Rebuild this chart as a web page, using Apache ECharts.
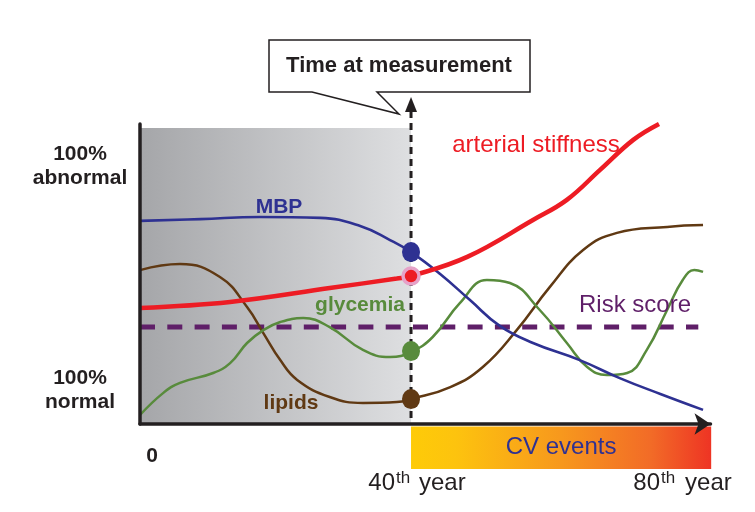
<!DOCTYPE html>
<html><head><meta charset="utf-8">
<script src="https://cdn.jsdelivr.net/npm/echarts@6/dist/echarts.min.js"></script>
<style>html,body{margin:0;padding:0;background:#fff}#c{width:755px;height:512px}</style>
</head><body><div id="c"></div>
<script>
// ---- data (x = age in years, y = 0 "100% normal" .. 100 "100% abnormal") ----
const measureYear = 40;
const mbp = [[0,67.7],[8.9,68.3],[17.7,69],[26.6,68.7],[32.5,66],[36.9,61.3],[40,57.3],[44.3,50],[48.7,41.3],[53.1,32.7],[58,27],[64.9,21.3],[70.8,15.3],[76.8,10],[83.1,4.7]];
const stiffness = [[0,38.7],[13.3,40.7],[28,45.3],[37.9,48.5],[40,49.3],[48.3,55.7],[58,68],[63,74.7],[67.9,84.7],[72.8,94.7],[76.6,100]];
const lipids = [[0,51.3],[5.9,53.3],[11.8,49],[15.8,39],[18.2,30.3],[20.7,21.3],[23.2,14.7],[28,9],[32.9,7],[37.9,7.3],[40,8.3],[45.8,12.3],[50.6,19],[55.6,31.3],[60.5,45.7],[65.4,58],[70.4,63.7],[77.8,65.7],[83.1,66.3]];
const glycemia = [[0,3],[3.4,10.3],[5.9,13.7],[10.8,17],[13.3,20.3],[15.8,27],[18.2,31.3],[20.7,34],[24.1,35.3],[28,32.3],[32.9,24.7],[36.9,22.3],[40,24],[43.2,29],[47.2,40.3],[51.2,48],[54.6,47],[59,38],[63,27],[66,19],[68.9,16.3],[71.9,17],[74.8,24.7],[77.8,38],[80.1,48],[81.8,51.3],[83.1,50.7]];
const riskScore = [[0,32.3],[82.4,32.3]];
const measuredPoints = {mbp:[40,57.3], stiffness:[40,49.3], glycemia:[40,24.3], lipids:[40,8.3]};
const cvEventsRange = [40, 84.3];
const grayRange = [0, 40];
const xTickLabels = ['0','40','80'];

const C = {blue:'#2e3192', red:'#ed1c24', brown:'#603913', green:'#588b3c', purple:'#5f1f68', ink:'#231f20'};
const FONT = '"Liberation Sans", Arial, sans-serif';

const chart = echarts.init(document.getElementById('c'));
chart.setOption({
  animation:false,
  grid:{left:140, top:124, width:570.5, height:300},
  xAxis:{type:'value', min:0, max:84.2, z:12,
    axisLine:{show:true, onZero:false, symbol:['none','arrow'], symbolSize:[16,16], lineStyle:{color:C.ink, width:3.5}},
    axisTick:{show:false}, axisLabel:{show:false}, splitLine:{show:false}},
  yAxis:{type:'value', min:0, max:100, z:12,
    axisLine:{show:true, lineStyle:{color:C.ink, width:3.5}},
    axisTick:{show:false}, axisLabel:{show:false}, splitLine:{show:false}},
  series:[
    {type:'line', name:'Risk score', data:riskScore, showSymbol:false, z:3,
     lineStyle:{color:C.purple, width:5, type:[15,12.3]},
     markArea:{silent:true, z:1, itemStyle:{color:new echarts.graphic.LinearGradient(0,0,1,0,[{offset:0,color:'#a5a6a9'},{offset:1,color:'#dedfe1'}])},
       data:[[{coord:[grayRange[0],98.7]},{coord:[grayRange[1],0]}]]}},
    {type:'line', name:'lipids', data:lipids, smooth:0.45, showSymbol:false, z:4, lineStyle:{color:C.brown, width:2.5}},
    {type:'line', name:'glycemia', data:glycemia, smooth:0.45, showSymbol:false, z:4, lineStyle:{color:C.green, width:2.5}},
    {type:'line', name:'MBP', data:mbp, smooth:0.45, showSymbol:false, z:5, lineStyle:{color:C.blue, width:2.6}},
    {type:'line', name:'arterial stiffness', data:stiffness, smooth:0.4, showSymbol:false, z:6, clip:false, lineStyle:{color:C.red, width:4.5}},
    {type:'scatter', z:8, symbolSize:[18,20], data:[{value:measuredPoints.mbp, itemStyle:{color:C.blue, opacity:1}}, {value:measuredPoints.glycemia, itemStyle:{color:C.green, opacity:1}}, {value:measuredPoints.lipids, itemStyle:{color:C.brown, opacity:1}}]},
    {type:'scatter', z:9, symbolSize:[16,16], data:[measuredPoints.stiffness], itemStyle:{color:C.red, opacity:1, borderColor:'#e6a2c8', borderWidth:3.5}}
  ]
});

const px = (x,y)=>chart.convertToPixel({gridIndex:0},[x,y]);
const mx = px(measureYear,0)[0];
const y0 = px(0,0)[1];
const cvA = px(cvEventsRange[0],-0.8), cvB = px(cvEventsRange[1],-15);
const t = (text, x, y, o)=>Object.assign({type:'text', z:20, style:Object.assign({text, x, y, font:'bold 21px '+FONT, fill:C.ink, align:'center', verticalAlign:'middle'}, o||{})});

chart.setOption({graphic:[
  // CV events band
  {type:'rect', z:1, shape:{x:cvA[0], y:cvA[1], width:cvB[0]-cvA[0], height:cvB[1]-cvA[1]},
   style:{fill:new echarts.graphic.LinearGradient(0,0,1,0,[{offset:0,color:'#fecb08'},{offset:0.15,color:'#fdc30e'},{offset:0.5,color:'#f7981d'},{offset:0.8,color:'#f26b27'},{offset:1,color:'#ee3424'}])}},
  t('CV events', (cvA[0]+cvB[0])/2, (cvA[1]+cvB[1])/2, {font:'24px '+FONT, fill:C.blue}),
  // measurement dashed line + arrow
  {type:'line', z:7, shape:{x1:mx, y1:111, x2:mx, y2:y0}, style:{stroke:C.ink, lineWidth:3, lineDash:[7,5]}},
  {type:'polygon', z:7, shape:{points:[[mx,97],[mx-6,112],[mx+6,112]]}, style:{fill:C.ink}},
  // callout
  {type:'polygon', z:10, shape:{points:[[269,40],[530,40],[530,92],[377,92],[399,114],[312,92],[269,92]]}, style:{fill:'#fff', stroke:C.ink, lineWidth:1.5}},
  t('Time at measurement', 399, 66, {font:'bold 22px '+FONT}),
  // axis texts
  t('100%\nabnormal', 80, 166, {lineHeight:24}),
  t('100%\nnormal', 80, 390, {lineHeight:24}),
  t(xTickLabels[0], px(0,0)[0]+12, 456),
  t(xTickLabels[1], px(40,0)[0]-16, 483, {font:'24px '+FONT, align:'right'}),
  t('th', px(40,0)[0]-15, 478, {font:'17px '+FONT, align:'left'}),
  t('year', px(40,0)[0]+8, 483, {font:'24px '+FONT, align:'left'}),
  t(xTickLabels[2], px(80,0)[0]-22, 483, {font:'24px '+FONT, align:'right'}),
  t('th', px(80,0)[0]-21, 478, {font:'17px '+FONT, align:'left'}),
  t('year', px(80,0)[0]+3, 483, {font:'24px '+FONT, align:'left'}),
  // series labels
  t('MBP', 279, 207, {fill:C.blue}),
  t('glycemia', 360, 305, {fill:C.green}),
  t('lipids', 291, 403, {fill:C.brown}),
  t('arterial stiffness', 536, 145, {font:'24px '+FONT, fill:C.red}),
  t('Risk score', 635, 305, {font:'24px '+FONT, fill:C.purple})
]});
</script></body></html>
